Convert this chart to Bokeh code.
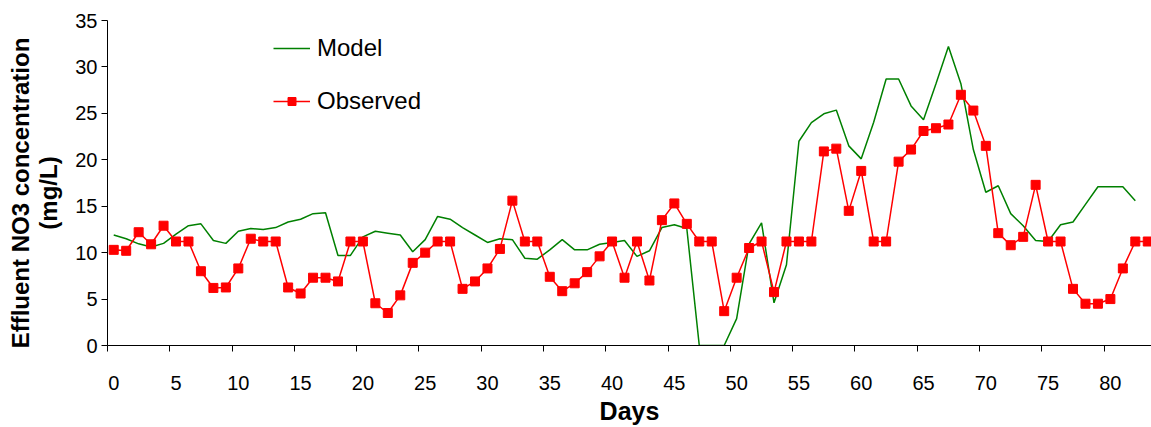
from bokeh.plotting import figure
from bokeh.models import FixedTicker, Legend, LegendItem, Range1d
from bokeh.embed import file_html
from bokeh.resources import INLINE

days = list(range(84))

observed = [10.3, 10.2, 12.2, 10.9, 12.9, 11.2, 11.2, 8.0, 6.2, 6.25,
            8.3, 11.5, 11.2, 11.2, 6.25, 5.6, 7.3, 7.3, 6.9, 11.2,
            11.2, 4.55, 3.5, 5.4, 8.9, 10.0, 11.2, 11.2, 6.1, 6.9,
            8.3, 10.4, 15.6, 11.2, 11.2, 7.4, 5.85, 6.7, 7.9, 9.6,
            11.2, 7.3, 11.2, 7.0, 13.5, 15.3, 13.1, 11.2, 11.2, 3.7,
            7.3, 10.5, 11.2, 5.75, 11.2, 11.2, 11.2, 20.9, 21.2, 14.5,
            18.8, 11.2, 11.2, 19.8, 21.1, 23.1, 23.4, 23.8, 27.0, 25.3,
            21.5, 12.1, 10.8, 11.7, 17.3, 11.2, 11.2, 6.1, 4.5, 4.5,
            5.0, 8.3, 11.2, 11.2]

model = [11.9, 11.5, 10.95, 10.6, 11.0, 12.0, 12.9, 13.1, 11.3, 11.0,
         12.3, 12.6, 12.5, 12.7, 13.3, 13.6, 14.2, 14.3, 9.7, 9.7,
         11.7, 12.3, 12.1, 11.9, 10.1, 11.4, 13.9, 13.6, 12.7, 11.9,
         11.1, 11.5, 11.4, 9.4, 9.3, 10.3, 11.4, 10.3, 10.3, 10.9,
         11.1, 11.3, 9.6, 10.2, 12.7, 13.0, 12.6, 0.0, 0.0, 0.0,
         2.9, 10.95, 13.2, 4.6, 8.7, 22.0, 24.0, 24.95, 25.35, 21.5,
         20.1, 24.05, 28.7, 28.7, 25.8, 24.3, 28.2, 32.2, 28.2, 21.1,
         16.5, 17.2, 14.2, 12.9, 11.3, 11.2, 13.0, 13.3, 15.2, 17.1,
         17.1, 17.1, 15.6]

x_tick_values = list(range(0, 81, 5))
x_tick_marks = [t - 0.5 for t in range(0, 85, 5)]
y_tick_values = list(range(0, 36, 5))

FONT = "Liberation Sans"
NB = "\u00a0\u00a0\u00a0"

p = figure(width=1151, height=427, output_backend="svg", toolbar_location=None,
           x_range=Range1d(-0.5, 83.3), y_range=Range1d(0, 35),
           min_border_left=107, min_border_right=0, min_border_top=20,
           min_border_bottom=82)
p.outline_line_color = None
p.grid.visible = False
p.background_fill_color = "white"
p.border_fill_color = "white"

r_model = p.line(days[:len(model)], model, line_color="#008000", line_width=1.5)
r_obs_line = p.line(days, observed, line_color="#FF0000", line_width=1.5)
r_obs_pts = p.scatter(days, observed, marker="square", size=9,
                      fill_color="#FF0000", line_color="#FF0000")

# x axis
xa = p.xaxis[0]
xa.ticker = FixedTicker(ticks=x_tick_values, minor_ticks=x_tick_marks)
xa.major_tick_line_color = None
xa.minor_tick_line_color = "black"
xa.minor_tick_out = 6
xa.minor_tick_in = 0
xa.axis_line_color = "black"
xa.major_label_text_font = FONT
xa.major_label_text_font_size = "20px"
xa.major_label_text_color = "black"
xa.major_label_standoff = 24
xa.axis_label = "Days"
xa.axis_label_text_font = FONT
xa.axis_label_text_font_style = "bold"
xa.axis_label_text_font_size = "25px"
xa.axis_label_text_color = "black"
xa.axis_label_standoff = 4

# y axis
ya = p.yaxis[0]
ya.ticker = FixedTicker(ticks=y_tick_values)
ya.minor_tick_line_color = None
ya.major_tick_line_color = "black"
ya.major_tick_out = 6
ya.major_tick_in = 0
ya.axis_line_color = "black"
ya.major_label_text_font = FONT
ya.major_label_text_font_size = "20px"
ya.major_label_text_color = "black"
ya.major_label_standoff = 4
ya.axis_label = "Effluent NO3 concentration" + NB + "\n(mg/L)" + NB
ya.axis_label_text_font = FONT
ya.axis_label_text_font_style = "bold"
ya.axis_label_text_font_size = "24px"
ya.axis_label_text_line_height = 1.05
ya.axis_label_text_color = "black"
ya.axis_label_standoff = 10

legend = Legend(items=[LegendItem(label="Model", renderers=[r_model]),
                       LegendItem(label="Observed", renderers=[r_obs_line, r_obs_pts])],
                location=(166, 230))
legend.border_line_color = None
legend.background_fill_alpha = 0
legend.label_text_font = FONT
legend.label_text_font_size = "24px"
legend.label_text_color = "black"
legend.glyph_width = 37
legend.glyph_height = 20
legend.label_standoff = 7
legend.spacing = 25
legend.padding = 0
legend.margin = 0
p.add_layout(legend)

open("out.html", "w").write(file_html(p, INLINE))
